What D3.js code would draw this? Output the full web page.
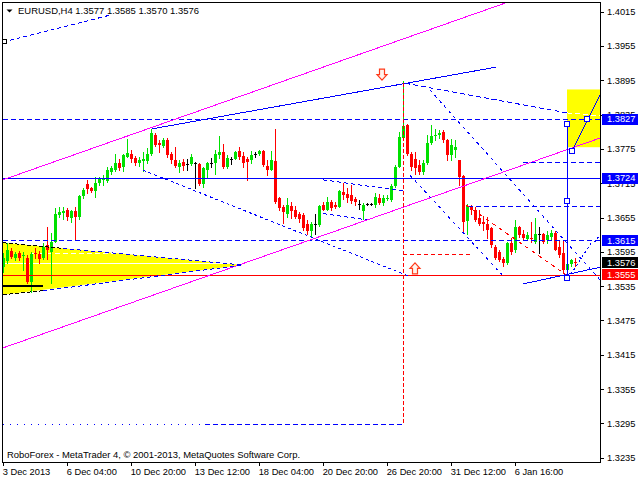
<!DOCTYPE html>
<html><head><meta charset="utf-8">
<script src="https://cdn.jsdelivr.net/npm/d3@7"></script>
<style>html,body{margin:0;padding:0;background:#fff;}svg{display:block;}</style>
</head><body>
<svg id="c" width="640" height="480"></svg>
<script>
// ---------- DATA (EURUSD H4) ----------
const symbol = "EURUSD,H4";
const opens = [1.3569,1.3579,1.3596,1.3585,1.3593,1.3588,1.3585,1.3543,1.3593,1.3591,1.3585,1.3607,1.3595,1.3613,1.3659,1.3663,1.3668,1.3655,1.3667,1.3656,
1.3693,1.3713,1.3707,1.3702,1.3715,1.3721,1.3719,1.3735,1.3739,1.3750,1.3744,1.3761,1.3767,1.3759,1.3751,1.3754,1.3754,1.3767,1.3799,1.3786,
1.3780,1.3790,1.3767,1.3756,1.3744,1.3753,1.3749,1.3749,1.3750,1.3749,1.3714,1.3738,1.3751,1.3751,1.3764,1.3770,1.3743,1.3757,1.3758,1.3772,
1.3763,1.3757,1.3756,1.3766,1.3767,1.3772,1.3745,1.3739,1.3754,1.3689,1.3673,1.3661,1.3675,1.3669,1.3662,1.3659,1.3644,1.3632,1.3644,1.3642,
1.3677,1.3669,1.3683,1.3677,1.3674,1.3700,1.3697,1.3694,1.3687,1.3679,1.3667,1.3679,1.3679,1.3677,1.3689,1.3680,1.3687,1.3686,1.3710,1.3744,
1.3794,1.3817,1.3767,1.3757,1.3747,1.3735,1.3750,1.3786,1.3797,1.3799,1.3805,1.3790,1.3764,1.3774,1.3756,1.3727,1.3649,1.3675,1.3669,1.3655,
1.3648,1.3644,1.3636,1.3604,1.3595,1.3582,1.3576,1.3610,1.3598,1.3638,1.3627,1.3618,1.3620,1.3613,1.3627,1.3626,1.3616,1.3621,1.3628,1.3604,
1.3593,1.3564,1.3573,1.3577];
const highs = [1.3593,1.3611,1.3602,1.3595,1.3597,1.3595,1.3589,1.3595,1.3601,1.3596,1.3611,1.3639,1.3628,1.3671,1.3674,1.3673,1.3671,1.3669,1.3673,1.3694,
1.3706,1.3720,1.3709,1.3726,1.3726,1.3729,1.3744,1.3745,1.3767,1.3757,1.3767,1.3792,1.3774,1.3763,1.3761,1.3770,1.3776,1.3809,1.3803,1.3790,
1.3794,1.3794,1.3770,1.3779,1.3756,1.3757,1.3757,1.3767,1.3753,1.3751,1.3744,1.3753,1.3759,1.3773,1.3798,1.3784,1.3764,1.3761,1.3772,1.3779,
1.3770,1.3761,1.3772,1.3770,1.3773,1.3774,1.3756,1.3772,1.3809,1.3691,1.3677,1.3689,1.3683,1.3675,1.3665,1.3663,1.3651,1.3648,1.3661,1.3677,
1.3683,1.3691,1.3686,1.3683,1.3703,1.3716,1.3706,1.3712,1.3691,1.3686,1.3680,1.3680,1.3680,1.3698,1.3697,1.3694,1.3694,1.3714,1.3747,1.3805,
1.3894,1.3819,1.3770,1.3770,1.3756,1.3756,1.3799,1.3817,1.3810,1.3808,1.3808,1.3792,1.3793,1.3790,1.3756,1.3729,1.3678,1.3677,1.3674,1.3668,
1.3658,1.3656,1.3639,1.3607,1.3599,1.3586,1.3613,1.3619,1.3651,1.3640,1.3633,1.3630,1.3647,1.3654,1.3638,1.3628,1.3632,1.3633,1.3632,1.3614,
1.3616,1.3584,1.3582,1.3585];
const lows = [1.3560,1.3575,1.3584,1.3581,1.3581,1.3563,1.3540,1.3525,1.3584,1.3576,1.3583,1.3582,1.3540,1.3613,1.3656,1.3653,1.3651,1.3648,1.3616,1.3652,
1.3689,1.3698,1.3699,1.3691,1.3712,1.3712,1.3718,1.3731,1.3737,1.3738,1.3737,1.3761,1.3753,1.3747,1.3745,1.3737,1.3751,1.3764,1.3780,1.3770,
1.3778,1.3761,1.3750,1.3744,1.3735,1.3739,1.3738,1.3747,1.3706,1.3712,1.3708,1.3725,1.3744,1.3732,1.3760,1.3741,1.3742,1.3748,1.3757,1.3757,
1.3743,1.3721,1.3750,1.3761,1.3765,1.3745,1.3729,1.3738,1.3681,1.3669,1.3646,1.3656,1.3655,1.3654,1.3648,1.3634,1.3627,1.3621,1.3627,1.3640,
1.3668,1.3668,1.3669,1.3671,1.3673,1.3687,1.3683,1.3681,1.3677,1.3670,1.3652,1.3677,1.3677,1.3674,1.3679,1.3677,1.3686,1.3684,1.3708,1.3743,
1.3790,1.3764,1.3738,1.3732,1.3732,1.3732,1.3748,1.3783,1.3790,1.3794,1.3787,1.3755,1.3755,1.3761,1.3712,1.3632,1.3626,1.3662,1.3649,1.3642,
1.3633,1.3619,1.3603,1.3582,1.3579,1.3570,1.3574,1.3592,1.3595,1.3621,1.3616,1.3616,1.3613,1.3611,1.3593,1.3611,1.3611,1.3618,1.3598,1.3586,
1.3558,1.3556,1.3570,1.3570];
const closes = [1.3584,1.3598,1.3586,1.3591,1.3584,1.3589,1.3543,1.3592,1.3591,1.3583,1.3604,1.3598,1.3612,1.3662,1.3665,1.3667,1.3656,1.3667,1.3656,1.3693,
1.3703,1.3705,1.3701,1.3715,1.3722,1.3724,1.3738,1.3741,1.3751,1.3741,1.3764,1.3768,1.3757,1.3750,1.3756,1.3757,1.3766,1.3803,1.3782,1.3782,
1.3790,1.3764,1.3756,1.3745,1.3751,1.3745,1.3749,1.3761,1.3750,1.3714,1.3741,1.3751,1.3751,1.3767,1.3770,1.3743,1.3760,1.3757,1.3770,1.3761,
1.3750,1.3753,1.3764,1.3766,1.3772,1.3747,1.3738,1.3756,1.3683,1.3671,1.3665,1.3677,1.3667,1.3656,1.3652,1.3636,1.3632,1.3644,1.3644,1.3675,
1.3669,1.3683,1.3672,1.3674,1.3702,1.3694,1.3689,1.3684,1.3683,1.3679,1.3677,1.3679,1.3679,1.3691,1.3681,1.3689,1.3690,1.3710,1.3744,1.3796,
1.3815,1.3767,1.3744,1.3741,1.3735,1.3751,1.3786,1.3797,1.3799,1.3802,1.3790,1.3764,1.3782,1.3778,1.3726,1.3648,1.3675,1.3668,1.3650,1.3644,
1.3644,1.3634,1.3607,1.3584,1.3581,1.3575,1.3611,1.3595,1.3639,1.3624,1.3620,1.3624,1.3617,1.3626,1.3627,1.3613,1.3624,1.3628,1.3599,1.3589,
1.3563,1.3573,1.3580,1.3576];

const xTickBars = [0,16,32,48,64,80,96,112,128];
const xTickLabels = ["3 Dec 2013","6 Dec 04:00","10 Dec 20:00","13 Dec 12:00","18 Dec 04:00","20 Dec 20:00","26 Dec 20:00","31 Dec 12:00","6 Jan 16:00"];
const yTicks = [1.4015,1.3955,1.3895,1.3835,1.3775,1.3715,1.3655,1.3595,1.3535,1.3475,1.3415,1.3355,1.3295,1.3235];

// horizontal levels (price)
const levelResistance = 1.3827;   // dashed blue
const levelPivot = 1.3724;        // solid blue
const levelTarget = 1.3615;       // dashed blue
const levelSupport = 1.3555;      // solid red
const priceTags = [1.3827,1.3724,1.3615,1.3576,1.3555];

// annotation objects: [bar index, price]
const channelUpper = [[0,1.3721],[125.5,1.4030]];
const channelLower = [[0,1.3427],[149.25,1.3794]];
const trendTop = [[37.2,1.3810],[123.25,1.3918]];
const topLeftDash = [[0,1.3962],[26.75,1.4009]];
const trendBottom = [[130.1,1.3539],[149.25,1.3568]];
const spikeDash = [[100.5,1.3890],[141,1.3838]];
const spikeDashInBox = [[141,1.3838],[149.25,1.3833]];
const diagA = [[106.75,1.3878],[149.25,1.3546]];
const diagB = [[101.75,1.3729],[124.75,1.3555]];
const diagC = [[35,1.3738],[101.25,1.3553]];
const wedgeUpper = [[80,1.3721],[100.5,1.3701]];
const wedgeLower = [[80,1.3662],[91,1.3651]];
const level1675 = [[116.25,1.3675],[149.25,1.3675]];
const level1752 = [[130,1.3752],[149.25,1.3752]];
const low1293Dot = [[0,1.3293],[50.5,1.3293]];
const low1293Dash = [[50.5,1.3293],[100,1.3293]];
const redVertical = [[100,1.3890],[100,1.3292]];
const redShort = [[100,1.3591],[117.25,1.3591]];
const redDiag = [[115.75,1.3677],[140.75,1.3555]];
const zigzag = [[142,1.3556],[147,1.3610],[148.25,1.3614],[149.25,1.3626]];
const triangle = [[0,1.3611],[60,1.3572],[0,1.3520]];
const triTopBlack = [[0,1.3611],[15,1.3601]];
const triTopBlue = [[15,1.3601],[60,1.3572]];
const triBotBlack = [[0,1.3520],[10,1.3527]];
const triBotBlue = [[10,1.3527],[60,1.3572]];
const triMid = [[0,1.3575],[59,1.3575]];
const triMidDash = [[7,1.3592],[37,1.3592]];
const blackBar = [[0,1.3535],[10,1.3535]];
const targetBox = [[141,1.3879],[149.25,1.3778]];
const projVertical = [[141,1.3818],[141,1.3550]];
const projVerticalMarks = [[141,1.3818],[141,1.3684],[141,1.3550],[142.2,1.3771],[146.1,1.3827]];
const projLine = [[142.2,1.3771],[149.25,1.3869]];
const arrowDown = [94.75,1.3905];
const arrowUp = [103,1.3566];
const leftMarker = [0,1.3962];

// ---------- DRAW ----------
const svg = d3.select("#c");
const FONT = "'Liberation Sans', Arial, sans-serif";
const BLUE = "#0000ff", MAG = "#ff00ff", RED = "#ff0000", GREEN = "#00e000", YEL = "#ffff00";

svg.append("rect").attr("width",640).attr("height",480).attr("fill","#fff");

const x = d3.scaleLinear().domain([0,143]).range([3,575]);
const y = d3.scaleLinear().domain([1.3235,1.4015]).range([457.7,11.7]);

svg.append("defs").append("clipPath").attr("id","clip")
  .append("rect").attr("x",3).attr("y",3).attr("width",597).attr("height",459);

const g = svg.append("g").attr("clip-path","url(#clip)");
const line = d3.line().x(d=>x(d[0])).y(d=>y(d[1]));

function seg(pts, color, dash, width){
  return g.append("path").attr("d", line(pts)).attr("fill","none")
    .attr("stroke",color).attr("stroke-width",width||1)
    .attr("stroke-dasharray",dash||null).attr("shape-rendering","crispEdges");
}
function hline(v, color, dash){
  const yy = Math.round(y(v)) + 0.5;
  g.append("line").attr("x1",3).attr("x2",600).attr("y1",yy).attr("y2",yy)
    .attr("stroke",color).attr("stroke-width",1).attr("stroke-dasharray",dash||null)
    .attr("shape-rendering","crispEdges");
}

// background objects
g.append("path").attr("d", line(triangle)+"Z").attr("fill",YEL).attr("stroke","none");
g.append("rect")
  .attr("x", x(targetBox[0][0])).attr("y", y(targetBox[0][1]))
  .attr("width", x(targetBox[1][0]) - x(targetBox[0][0]))
  .attr("height", y(targetBox[1][1]) - y(targetBox[0][1]))
  .attr("fill", YEL);
seg(triMid, "#ffffff");
seg(triMidDash, "#ffffff", "5,3");

// candles
const bars = d3.range(opens.length).map(i=>({i,o:opens[i],h:highs[i],l:lows[i],c:closes[i]}));
const colorOf = d => d.c > d.o ? GREEN : (d.c < d.o ? RED : "#000000");
const cg = g.append("g").attr("shape-rendering","crispEdges");
cg.selectAll("line.w").data(bars).join("line").attr("class","w")
  .attr("x1",d=>Math.round(x(d.i))+0.5).attr("x2",d=>Math.round(x(d.i))+0.5)
  .attr("y1",d=>Math.round(y(d.h))).attr("y2",d=>Math.round(y(d.l))+1)
  .attr("stroke",colorOf).attr("stroke-width",1);
cg.selectAll("rect.b").data(bars).join("rect").attr("class","b")
  .attr("x",d=>Math.round(x(d.i))-1).attr("width",3)
  .attr("y",d=>Math.round(y(Math.max(d.o,d.c))))
  .attr("height",d=>Math.max(1, Math.round(y(Math.min(d.o,d.c))) - Math.round(y(Math.max(d.o,d.c)))))
  .attr("fill",colorOf);

// horizontal levels
hline(levelResistance, BLUE, "5,3");
hline(levelPivot, BLUE);
hline(levelTarget, BLUE, "5,3");
hline(levelSupport, RED);

// trend / channel lines
seg(channelUpper, MAG);
seg(channelLower, MAG);
seg(trendTop, BLUE);
seg(topLeftDash, BLUE, "4,3");
seg(trendBottom, BLUE);
seg(spikeDash, BLUE, "5,3");
seg(spikeDashInBox, "#ffffff", "5,3");
seg(diagA, BLUE, "3,4");
seg(diagB, BLUE, "3,4");
seg(diagC, BLUE, "3,3");
seg(wedgeUpper, BLUE, "4,3");
seg(wedgeLower, BLUE, "4,3");
seg(level1675, BLUE, "5,3");
seg(level1752, BLUE, "5,3");
seg(low1293Dot, BLUE, "1,6");
seg(low1293Dash, BLUE, "5,3");
seg(redVertical, RED, "4,2");
seg(redShort, RED, "4,3");
seg(redDiag, RED, "4,4");
seg(zigzag, BLUE, "2,3");
seg(triTopBlack, "#000000", "4,2");
seg(triTopBlue, BLUE, "4,3");
seg(triBotBlack, "#000000", "4,2");
seg(triBotBlue, BLUE, "4,3");
seg(blackBar, "#000000", null, 2);
seg(projVertical, BLUE);
seg(projLine, BLUE);

// small square markers
g.selectAll("rect.m").data(projVerticalMarks).join("rect").attr("class","m")
  .attr("x",d=>Math.round(x(d[0]))-2.5).attr("y",d=>Math.round(y(d[1]))-2.5)
  .attr("width",5).attr("height",5).attr("fill","#fff").attr("stroke",BLUE)
  .attr("shape-rendering","crispEdges");
g.append("rect").attr("x",x(leftMarker[0])-0.5).attr("y",Math.round(y(leftMarker[1]))-2.5)
  .attr("width",4).attr("height",4).attr("fill","#fff").attr("stroke","#000")
  .attr("shape-rendering","crispEdges");

// arrows
function arrow(pos, dir){
  const cx = x(pos[0]), cy = y(pos[1]);
  const s = dir; // 1 = down, -1 = up
  const p = [[-2.5,-5.5*s],[2.5,-5.5*s],[2.5,0],[5,0],[0,5.5*s],[-5,0],[-2.5,0]];
  g.append("path").attr("d","M"+p.map(q=>[cx+q[0],cy+q[1]].join(",")).join("L")+"Z")
    .attr("fill","#fff4ee").attr("stroke","#ff3a1a").attr("stroke-width",1.2);
}
arrow(arrowDown, 1);
arrow(arrowUp, -1);

// frame
svg.append("rect").attr("x",2.5).attr("y",2.5).attr("width",598).attr("height",460)
  .attr("fill","none").attr("stroke","#000").attr("shape-rendering","crispEdges");

// y axis (right)
const yAxis = d3.axisRight(y).tickValues(yTicks).tickSize(4).tickPadding(3).tickFormat(d3.format(".4f"));
const ya = svg.append("g").attr("transform","translate(600,0)").call(yAxis);
ya.select(".domain").remove();
ya.selectAll("line").attr("stroke","#000").attr("shape-rendering","crispEdges");
ya.selectAll("text").attr("font-family",FONT).attr("font-size","9.3px").attr("fill","#000");

// x axis (bottom)
const xAxis = d3.axisBottom(x).tickValues(xTickBars).tickSize(4).tickPadding(2)
  .tickFormat((d,i)=>xTickLabels[i]);
const xa = svg.append("g").attr("transform","translate(0,462)").call(xAxis);
xa.select(".domain").remove();
xa.selectAll("line").attr("stroke","#000").attr("shape-rendering","crispEdges");
xa.selectAll("text").attr("font-family",FONT).attr("font-size","9.3px").attr("fill","#000")
  .attr("text-anchor","start").attr("x",-0.8);

// price tags
const tagFill = v => v === levelSupport ? RED : (v === closes[closes.length-1] ? "#000000" : BLUE);
const tg = svg.append("g");
tg.selectAll("rect").data(priceTags).join("rect")
  .attr("x",602).attr("y",d=>y(d)-5.5).attr("width",36).attr("height",11)
  .attr("fill",tagFill).attr("shape-rendering","crispEdges");
tg.selectAll("text").data(priceTags).join("text")
  .attr("x",607).attr("y",d=>y(d)).attr("dy","0.34em")
  .attr("font-family",FONT).attr("font-size","9.3px").attr("fill","#fff")
  .text(d=>d.toFixed(4));

// header
const last = opens.length-1;
svg.append("path").attr("d","M6.5,9.5L12.5,9.5L9.5,12.5Z").attr("fill","#000");
svg.append("text").attr("x",18).attr("y",14).attr("font-family",FONT).attr("font-size","9.3px")
  .attr("fill","#000").attr("textLength",181).attr("lengthAdjust","spacingAndGlyphs")
  .text(symbol + "  " + [opens[last],highs[last],lows[last],closes[last]].map(v=>v.toFixed(4)).join(" "));

// footer
svg.append("text").attr("x",7).attr("y",458.3).attr("font-family",FONT).attr("font-size","9.3px")
  .attr("fill","#000").attr("textLength",293).attr("lengthAdjust","spacingAndGlyphs")
  .text("RoboForex - MetaTrader 4, \u00a9 2001-2013, MetaQuotes Software Corp.");
</script>
</body></html>
